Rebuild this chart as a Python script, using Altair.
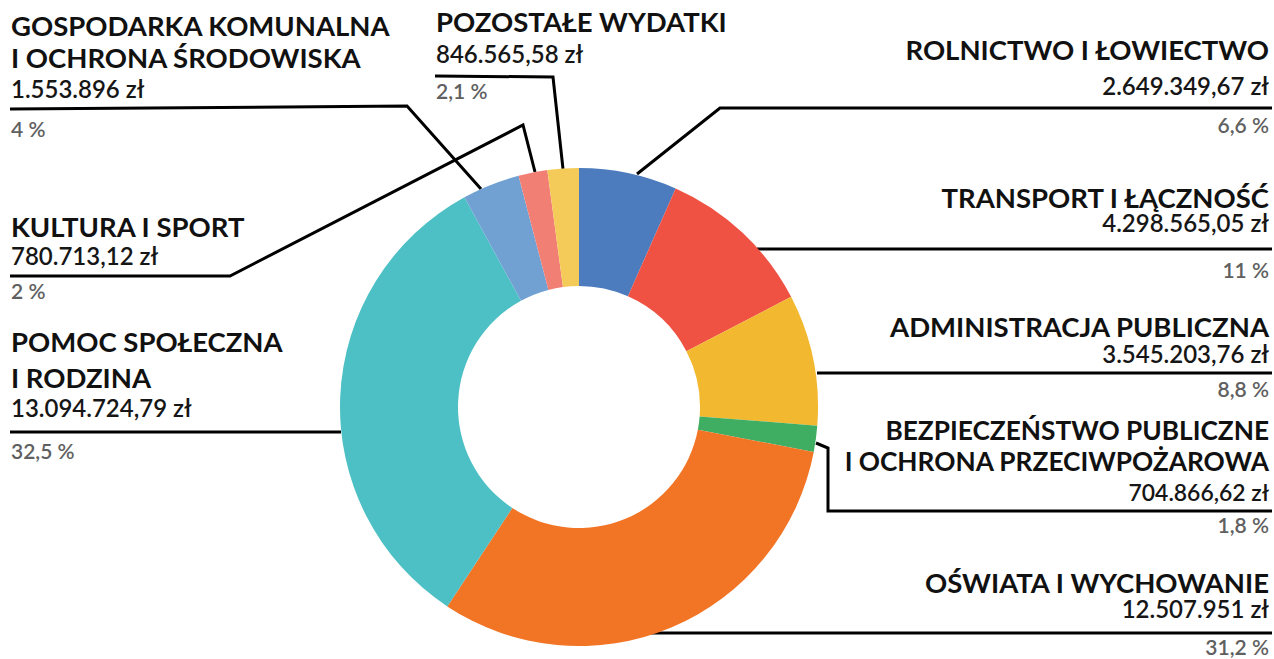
import altair as alt
import pandas as pd

# ---- data ----
CATEGORIES = [
    "ROLNICTWO I ŁOWIECTWO",
    "TRANSPORT I ŁĄCZNOŚĆ",
    "ADMINISTRACJA PUBLICZNA",
    "BEZPIECZEŃSTWO PUBLICZNE|I OCHRONA PRZECIWPOŻAROWA",
    "OŚWIATA I WYCHOWANIE",
    "POMOC SPOŁECZNA|I RODZINA",
    "GOSPODARKA KOMUNALNA|I OCHRONA ŚRODOWISKA",
    "KULTURA I SPORT",
    "POZOSTAŁE WYDATKI",
]
AMOUNTS = [2649349.67, 4298565.05, 3545203.76, 704866.62, 12507951.00,
           13094724.79, 1553896.00, 780713.12, 846565.58]
AMOUNT_LABELS = ["2.649.349,67 zł", "4.298.565,05 zł", "3.545.203,76 zł", "704.866,62 zł",
                 "12.507.951 zł", "13.094.724,79 zł", "1.553.896 zł", "\u00a0780.713,12 zł",
                 "846.565,58 zł"]
PCT_LABELS = ["6,6 %", "11 %", "8,8 %", "1,8 %", "31,2 %", "32,5 %", "4 %", "2 %", "2,1 %"]

# ---- styles ----
COLORS = ["#4C7BBE", "#EF5143", "#F2B830", "#40AE62", "#F27425",
          "#4DC0C5", "#71A1D3", "#F27F74", "#F4CB58"]

# ---- annotation layout ----
LABEL_X = [1269, 1269, 1269, 1269, 1269, 11, 11, 11, 436]
LABEL_ALIGN = ["right"] * 5 + ["left"] * 4
LABEL_SCALE = [1, 1, 1, 0.955, 1, 1, 1, 1, 1]
TITLE_Y = [60, 208, 337, 440, 593, 352, 36, 237, 32]
TITLE_GAP = [0, 0, 0, 31, 0, 36, 32, 0, 0]
VALUE_Y = [95, 232, 363, 501, 618, 417, 98, 265, 63]
PCT_Y = [133, 278, 397, 533, 655, 459, 137, 299, 99]
LEADERS = [
    [(637, 174), (720, 108), (1272, 108)],
    [(757, 249), (1272, 249)],
    [(817, 373), (1272, 373)],
    [(816, 443), (828, 448), (828, 511), (1272, 511)],
    [(645, 633), (1272, 633)],
    [(10, 432), (341, 432)],
    [(10, 109), (407, 106), (481, 189)],
    [(10, 276), (230, 276), (523, 125), (535, 172)],
    [(435, 76), (553, 77), (563, 169)],
]
W, H = 1274, 659
CX, CY, R_OUT, R_IN = 579, 407, 239, 121
BASE_SIZE = {"title": 27.5, "value": 24, "pct": 21}

# ---- tables ----
arc_df = pd.DataFrame({"cat": CATEGORIES, "amount": AMOUNTS, "idx": range(len(CATEGORIES))})

line_rows = []
for i, pts in enumerate(LEADERS):
    for j, (px, py) in enumerate(pts):
        line_rows.append({"id": i, "k": j, "x": px, "y": py})
line_df = pd.DataFrame(line_rows)

text_rows = []
for i, cat in enumerate(CATEGORIES):
    s = LABEL_SCALE[i]
    for j, part in enumerate(cat.split("|")):
        text_rows.append({"x": LABEL_X[i], "y": TITLE_Y[i] + j * TITLE_GAP[i], "t": part,
                          "kind": "title", "side": LABEL_ALIGN[i],
                          "fs": BASE_SIZE["title"] * s})
    text_rows.append({"x": LABEL_X[i], "y": VALUE_Y[i], "t": AMOUNT_LABELS[i],
                      "kind": "value", "side": LABEL_ALIGN[i], "fs": BASE_SIZE["value"] * s})
    text_rows.append({"x": LABEL_X[i], "y": PCT_Y[i], "t": PCT_LABELS[i],
                      "kind": "pct", "side": LABEL_ALIGN[i], "fs": BASE_SIZE["pct"]})
text_df = pd.DataFrame(text_rows)

xs = alt.Scale(domain=[0, W], nice=False, zero=False)
ys = alt.Scale(domain=[0, H], nice=False, zero=False, reverse=True)

arc = alt.Chart(arc_df).mark_arc(innerRadius=R_IN, outerRadius=R_OUT).encode(
    theta=alt.Theta("amount:Q", stack=True),
    order=alt.Order("idx:Q"),
    color=alt.Color("cat:N", scale=alt.Scale(domain=CATEGORIES, range=COLORS), legend=None),
    x=alt.value(CX),
    y=alt.value(CY),
)

lines = alt.Chart(line_df).mark_line(color="#000000", strokeWidth=3, strokeJoin="miter").encode(
    x=alt.X("x:Q", scale=xs, axis=None),
    y=alt.Y("y:Q", scale=ys, axis=None),
    detail="id:N",
    order="k:Q",
)

STYLE = {
    "title": dict(fontWeight="bold", color="#111111"),
    "value": dict(fontWeight=600, color="#161616"),
    "pct": dict(fontWeight=600, color="#606060"),
}

text_layers = []
for kind, st in STYLE.items():
    for al in ["left", "right"]:
        sub = text_df[(text_df["kind"] == kind) & (text_df["side"] == al)].reset_index(drop=True)
        text_layers.append(
            alt.Chart(sub).mark_text(align=al, baseline="alphabetic", font="Lato", **st).encode(
                x=alt.X("x:Q", scale=xs, axis=None),
                y=alt.Y("y:Q", scale=ys, axis=None),
                text="t:N",
                size=alt.Size("fs:Q", scale=None, legend=None),
            )
        )

chart = alt.layer(lines, arc, *text_layers).properties(
    width=W, height=H, autosize=alt.AutoSizeParams(type="none"), padding=0,
    background="#ffffff",
).configure_view(stroke=None)

chart.save("out.html", embed_options={"renderer": "svg", "actions": False})
